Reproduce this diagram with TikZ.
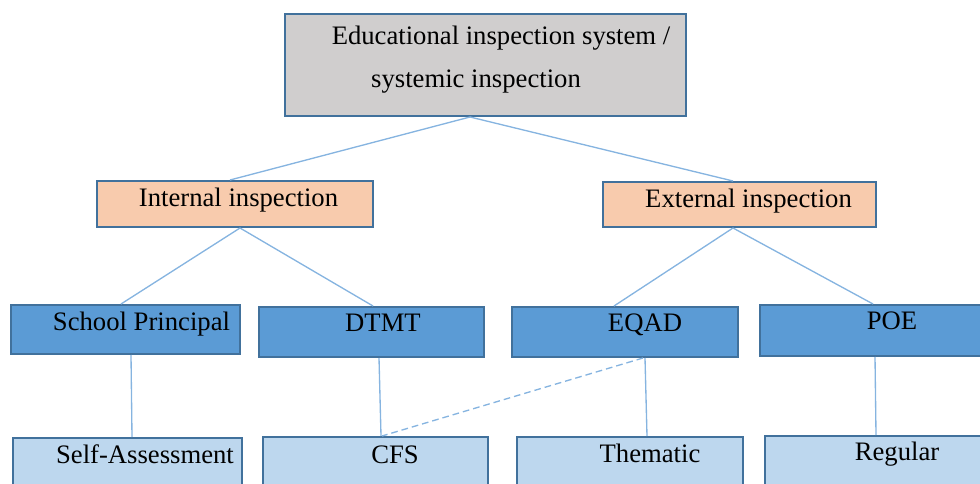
\documentclass[tikz,border=0pt]{standalone}
\usepackage{fontspec}
\setmainfont{Liberation Serif}
\usetikzlibrary{calc}
\definecolor{bordc}{HTML}{41719C}
\definecolor{grayf}{HTML}{D0CECE}
\definecolor{orangef}{HTML}{F8CBAD}
\definecolor{midblue}{HTML}{5B9BD5}
\definecolor{lightblue}{HTML}{BDD7EE}
\definecolor{connc}{HTML}{86B4E0}
\tikzset{
  box/.style={draw=bordc, line width=1.5pt, rectangle, inner sep=0pt},
  txt/.style={anchor=base, inner sep=0pt, font=\fontsize{20}{24}\selectfont},
  conn/.style={draw=connc, line width=1pt},
}
\begin{document}
\begin{tikzpicture}[x=0.75pt,y=-0.75pt]
\useasboundingbox (0,0) rectangle (980,484);
\clip (0,0) rectangle (980,484);
% boxes
\node[box, fill=grayf, minimum width=300.75pt, minimum height=76.5pt] (top) at (485.5,65) {};
\node[box, fill=orangef, minimum width=207pt, minimum height=34.5pt] (int) at (235,204) {};
\node[box, fill=orangef, minimum width=204.75pt, minimum height=33.75pt] (ext) at (739.5,204.5) {};
\node[box, fill=midblue, minimum width=171.75pt, minimum height=36.75pt] (sp) at (125.5,329.5) {};
\node[box, fill=midblue, minimum width=168.75pt, minimum height=37.5pt] (dtmt) at (371.5,332) {};
\node[box, fill=midblue, minimum width=169.5pt, minimum height=37.5pt] (eqad) at (625,332) {};
\node[box, fill=midblue, minimum width=172.5pt, minimum height=38.25pt] (poe) at (875,330.5) {};
\node[box, fill=lightblue, minimum width=171.75pt, minimum height=46.5pt] (sa) at (127.5,469) {};
\node[box, fill=lightblue, minimum width=168.75pt, minimum height=47.25pt] (cfs) at (375.5,468.5) {};
\node[box, fill=lightblue, minimum width=169.5pt, minimum height=47.25pt] (them) at (630,468.5) {};
\node[box, fill=lightblue, minimum width=168.75pt, minimum height=48pt] (reg) at (877.5,468) {};
% texts
\node[txt] (top-t1) at (501,45) {Educational inspection system /};
\node[txt] (top-t2) at (476,88) {systemic inspection};
\node[txt] (int-t) at (238.5,207) {Internal inspection};
\node[txt] (ext-t) at (748.5,208) {External inspection};
\node[txt] (sp-t) at (141.5,330) {School Principal};
\node[txt] (dtmt-t) at (383,331) {DTMT};
\node[txt] (eqad-t) at (645,331) {EQAD};
\node[txt] (poe-t) at (892,329) {POE};
\node[txt] (sa-t) at (145,463) {Self-Assessment};
\node[txt] (cfs-t) at (395,463) {CFS};
\node[txt] (them-t) at (650,462) {Thematic};
\node[txt] (reg-t) at (897,460) {Regular};
% connectors
\draw[conn] ($(top.south west)!(470,0)!(top.south east)$) -- ($(int.north west)!(230,0)!(int.north east)$);
\draw[conn] ($(top.south west)!(470,0)!(top.south east)$) -- ($(ext.north west)!(733,0)!(ext.north east)$);
\draw[conn] ($(int.south west)!(240,0)!(int.south east)$) -- ($(sp.north west)!(121,0)!(sp.north east)$);
\draw[conn] ($(int.south west)!(240,0)!(int.south east)$) -- ($(dtmt.north west)!(373,0)!(dtmt.north east)$);
\draw[conn] ($(ext.south west)!(733,0)!(ext.south east)$) -- ($(eqad.north west)!(614,0)!(eqad.north east)$);
\draw[conn] ($(ext.south west)!(733,0)!(ext.south east)$) -- ($(poe.north west)!(873,0)!(poe.north east)$);
\draw[conn] ($(sp.south west)!(131,0)!(sp.south east)$) -- ($(sa.north west)!(132,0)!(sa.north east)$);
\draw[conn] ($(dtmt.south west)!(379,0)!(dtmt.south east)$) -- ($(cfs.north west)!(381,0)!(cfs.north east)$);
\draw[conn] ($(eqad.south west)!(645,0)!(eqad.south east)$) -- ($(them.north west)!(647,0)!(them.north east)$);
\draw[conn] ($(poe.south west)!(875,0)!(poe.south east)$) -- ($(reg.north west)!(876,0)!(reg.north east)$);
\draw[conn, dashed, dash pattern=on 5pt off 3pt] ($(eqad.south west)!(643,0)!(eqad.south east)$) -- ($(cfs.north west)!(382,0)!(cfs.north east)$);
\end{tikzpicture}
\end{document}
